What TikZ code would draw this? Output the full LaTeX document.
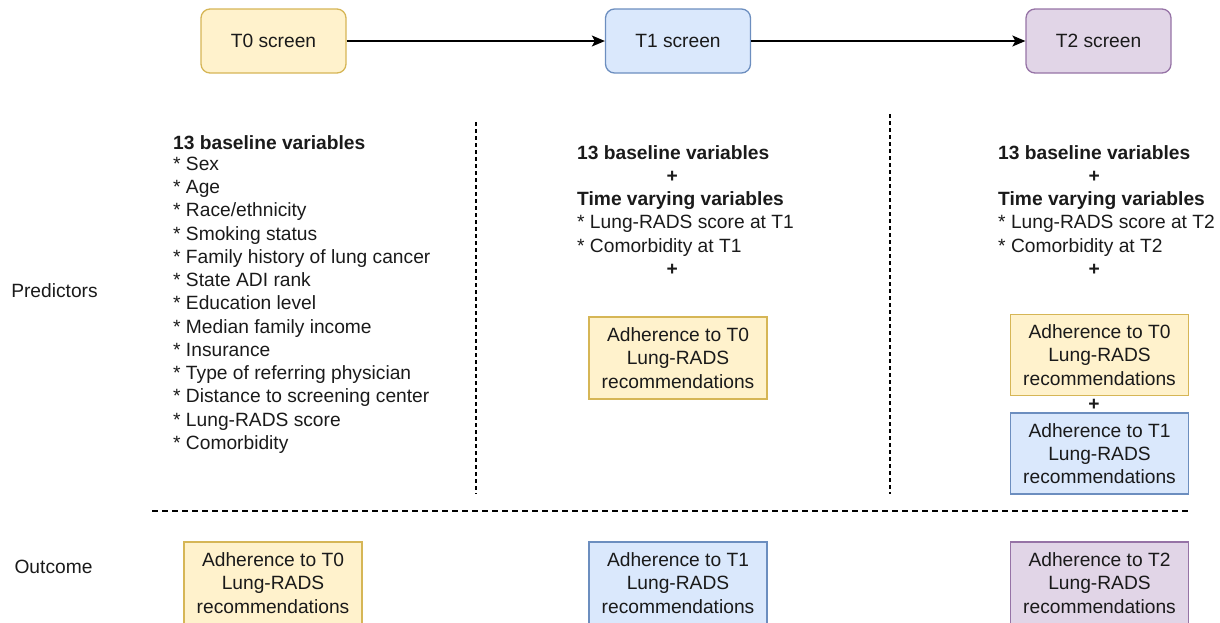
\documentclass[tikz,border=0pt]{standalone}
\usepackage{fontspec}
\setmainfont{Liberation Sans}
\usetikzlibrary{arrows.meta}

\definecolor{yfill}{HTML}{FFF2CC}
\definecolor{ydraw}{HTML}{D6B656}
\definecolor{bfill}{HTML}{DAE8FC}
\definecolor{bdraw}{HTML}{6C8EBF}
\definecolor{pfill}{HTML}{E1D5E7}
\definecolor{pdraw}{HTML}{9673A6}
\definecolor{ink}{HTML}{1A1A1A}

\tikzset{
  txt/.style={font=\fontsize{19.2}{23.25}\selectfont, inner sep=0pt, text=ink},
  screenbox/.style={txt, draw, line width=1.3pt, rounded corners=9pt,
    minimum width=145pt, minimum height=64pt, align=center},
  adhbox/.style={txt, draw, line width=1.3pt,
    minimum width=178pt, minimum height=82pt, align=center},
  yel/.style={fill=yfill, draw=ydraw},
  blu/.style={fill=bfill, draw=bdraw},
  pur/.style={fill=pfill, draw=pdraw},
  flow/.style={line width=1.4pt, -{Stealth[length=13pt, width=11pt, inset=3pt]}},
  vsep/.style={line width=1.2pt, dash pattern=on 4pt off 3pt},
  hsep/.style={line width=1.2pt, dash pattern=on 6pt off 4pt},
}

\begin{document}
\begin{tikzpicture}[x=1pt, y=-1pt]
\useasboundingbox (0,0) rectangle (1220,622);

% screening rounds
\node[screenbox, yel] (t0) at (273.5,41) {T0 screen};
\node[screenbox, blu] (t1) at (678,41) {T1 screen};
\node[screenbox, pur] (t2) at (1098.5,41) {T2 screen};
\draw[flow] (t0) -- (t1);
\draw[flow] (t1) -- (t2);

% row labels
\node[txt] (pred) at (54.5,291) {Predictors};
\node[txt] (outc) at (53.5,567) {Outcome};

% separators
\draw[vsep] (476,122) -- (476,494);
\draw[vsep] (890,114) -- (890,494);
\draw[hsep] (152,511) -- (1188,511);

% predictors at T0
\node[txt, anchor=north west, align=left] (p0) at (173,135.25) {%
\textbf{13 baseline variables}\\[-2.25pt]
* Sex\\
* Age\\
* Race/ethnicity\\
* Smoking status\\
* Family history of lung cancer\\
* State ADI rank\\
* Education level\\
* Median family income\\
* Insurance\\
* Type of referring physician\\
* Distance to screening center\\
* Lung-RADS score\\
* Comorbidity};

% predictors at T1
\node[txt, anchor=north west, align=left] (p1) at (577,145) {%
\textbf{13 baseline variables}\\
\makebox[190pt]{\textbf{+}}\\
\textbf{Time varying variables}\\
* Lung-RADS score at T1\\
* Comorbidity at T1\\
\makebox[190pt]{\textbf{+}}};
\node[adhbox, yel] (p1a) at (678,358) {Adherence to T0\\Lung-RADS\\recommendations};

% predictors at T2
\node[txt, anchor=north west, align=left] (p2) at (998,145) {%
\textbf{13 baseline variables}\\
\makebox[192pt]{\textbf{+}}\\
\textbf{Time varying variables}\\
* Lung-RADS score at T2\\
* Comorbidity at T2\\
\makebox[192pt]{\textbf{+}}};
\node[adhbox, yel, minimum height=81pt] (p2a) at (1099.5,355) {Adherence to T0\\Lung-RADS\\recommendations};
\node[txt] (p2plus) at (1094,405) {\textbf{+}};
\node[adhbox, blu, minimum height=81pt] (p2b) at (1099.5,453.5) {Adherence to T1\\Lung-RADS\\recommendations};

% outcomes
\node[adhbox, yel] (o0) at (273,583) {Adherence to T0\\Lung-RADS\\recommendations};
\node[adhbox, blu] (o1) at (678,583) {Adherence to T1\\Lung-RADS\\recommendations};
\node[adhbox, pur] (o2) at (1099.5,583) {Adherence to T2\\Lung-RADS\\recommendations};
\end{tikzpicture}
\end{document}
